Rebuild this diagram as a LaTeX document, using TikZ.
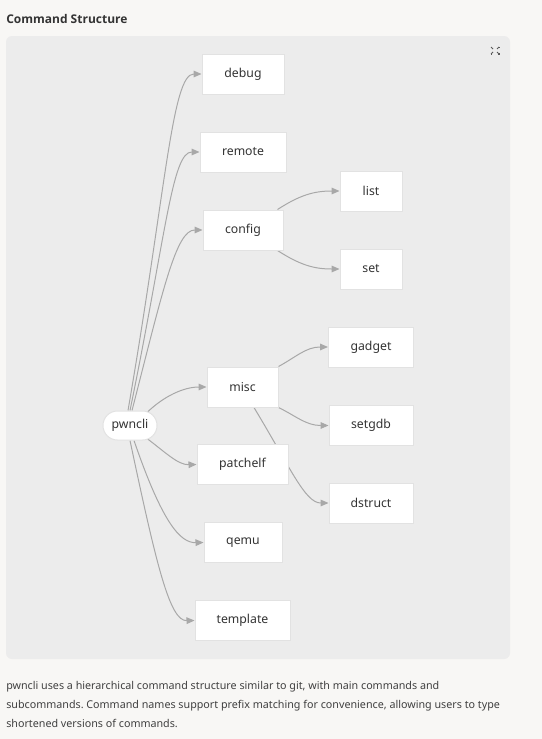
\documentclass[tikz,border=0pt]{standalone}
\usepackage{fontspec}
\setmainfont{Noto Sans}
\newfontfamily\titlefont{Open Sans}
\usetikzlibrary{arrows.meta}
\definecolor{pagebg}{HTML}{F8F7F5}
\definecolor{panelbg}{HTML}{ECECEC}
\definecolor{nodeborder}{HTML}{E2E2E2}
\definecolor{edgecol}{HTML}{A8A8A8}
\definecolor{txt}{HTML}{333333}
\definecolor{bodytxt}{HTML}{404040}
\pgfdeclarelayer{bg}
\pgfdeclarelayer{edges}
\pgfsetlayers{bg,edges,main}
\tikzset{
  box/.style={draw=nodeborder, line width=0.75pt, fill=white, inner sep=0pt,
    minimum height=30pt, text=txt, font=\fontsize{9.2pt}{11pt}\selectfont},
  pill/.style={box, rounded corners=10.8pt, minimum height=21.75pt, minimum width=40.5pt},
  edge/.style={draw=edgecol, line width=0.75pt, -{Triangle[length=6pt,width=5pt]}},
  bodyline/.style={anchor=base west, inner sep=0pt, text=bodytxt, font=\fontsize{8.05pt}{10pt}\selectfont\frenchspacing},
}
\begin{document}
\begin{tikzpicture}[x=0.75pt, y=-0.75pt]
\begin{pgfonlayer}{bg}
\fill[pagebg] (0,0) rectangle (542,739);
\fill[panelbg, rounded corners=4.5pt] (6,36) rectangle (510,659);
\end{pgfonlayer}
\useasboundingbox (0,0) rectangle (542,739);

\node[anchor=base west, inner sep=0pt, text=txt, font=\titlefont\fontsize{9pt}{12pt}\selectfont\bfseries] (title) at (6,23) {Command Structure};

% expand icon
\begin{scope}[draw=black!65, line width=0.75pt]
\draw (491,48) -- (491,47) -- (492,47);
\draw (498,47) -- (499,47) -- (499,48);
\draw (491,53) -- (491,54) -- (492,54);
\draw (498,54) -- (499,54) -- (499,53);
\draw (491,47) -- (493,49);
\draw (499,47) -- (497,49);
\draw (491,54) -- (493,52);
\draw (499,54) -- (497,52);
\end{scope}

% nodes
\node[pill] (pwncli) at (130,425.5) {pwncli};
\node[box, minimum width=61.5pt] (debug) at (243,74) {debug};
\node[box, minimum width=64.5pt] (remote) at (243,152) {remote};
\node[box, minimum width=60pt] (config) at (243,230) {config};
\node[box, minimum width=46.5pt] (list) at (371,191) {list};
\node[box, minimum width=46.5pt] (set) at (371,269) {set};
\node[box, minimum width=53.25pt] (misc) at (242.5,387) {misc};
\node[box, minimum width=63.75pt] (gadget) at (371,347) {gadget};
\node[box, minimum width=63pt] (setgdb) at (371,425.5) {setgdb};
\node[box, minimum width=63pt] (dstruct) at (371,503) {dstruct};
\node[box, minimum width=68.25pt] (patchelf) at (242.5,464.5) {patchelf};
\node[box, minimum width=58.5pt] (qemu) at (243,542.5) {qemu};
\node[box, minimum width=71.25pt] (template) at (242.5,620.5) {template};

% edges
\begin{pgfonlayer}{edges}
\draw[edge] ([xshift=-1.5pt]pwncli.north) .. controls (166,190) and (172,74) .. (debug.west);
\draw[edge] ([xshift=0pt]pwncli.north) .. controls (166,235) and (172,152) .. (remote.west);
\draw[edge] ([xshift=1.5pt]pwncli.north) .. controls (163,290) and (176,230) .. (config.west);
\draw[edge] ([xshift=12.75pt,yshift=-1.5pt]pwncli.north) .. controls (164,396) and (184,387) .. (misc.west);
\draw[edge] ([xshift=12.75pt,yshift=1.5pt]pwncli.south) .. controls (165,452) and (178,465) .. (patchelf.west);
\draw[edge] ([xshift=3pt]pwncli.south) .. controls (162,522) and (180,543) .. (qemu.west);
\draw[edge] ([xshift=0pt]pwncli.south) .. controls (157,568) and (170,621) .. (template.west);
\draw[edge] ([xshift=-4.5pt]config.north east) .. controls (300,195) and (314,191) .. (list.west);
\draw[edge] ([xshift=-4.5pt]config.south east) .. controls (300,265) and (314,269) .. (set.west);
\draw[edge] ([xshift=0pt]misc.north east) .. controls (296,357) and (306,347) .. (gadget.west);
\draw[edge] ([xshift=0pt]misc.south east) .. controls (296,416) and (306,425.5) .. (setgdb.west);
\draw[edge] ([xshift=8.6pt]misc.south) .. controls (290,467) and (305,503) .. (dstruct.west);
\end{pgfonlayer}

% body text
\node[bodyline] (t1) at (6,689) {pwncli uses a hierarchical command structure similar to git, with main commands and};
\node[bodyline] (t2) at (6,708) {subcommands. Command names support prefix matching for convenience, allowing users to type};
\node[bodyline] (t3) at (6,727) {shortened versions of commands.};
\end{tikzpicture}
\end{document}
